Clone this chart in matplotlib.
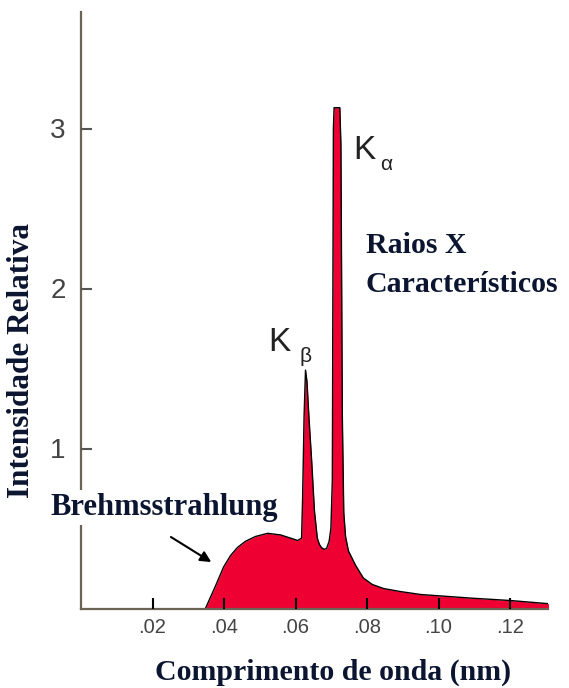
"""Espectro de raios X: Bremsstrahlung + linhas características K-alfa e K-beta"""
import numpy as np
import matplotlib
matplotlib.use('Agg')
import matplotlib.pyplot as plt

# comprimento de onda (nm) e intensidade relativa
wavelength = [0.0348, 0.0362, 0.0376, 0.0399, 0.0418, 0.0437, 0.0460, 0.0488, 0.0522,
              0.0558, 0.0586, 0.0606, 0.0617, 0.0620, 0.0624, 0.0628, 0.0632, 0.0638,
              0.0645, 0.0653, 0.0661, 0.0667, 0.0673, 0.0680, 0.0687, 0.0694, 0.0699,
              0.0703, 0.0706, 0.0708, 0.0724, 0.0727, 0.0731, 0.0735, 0.0740, 0.0748,
              0.0768, 0.0790, 0.0815, 0.0846, 0.0893, 0.0950, 0.0997, 0.1090, 0.1200,
              0.1308]
intensity = [0.00, 0.07, 0.14, 0.26, 0.33, 0.38, 0.42, 0.45, 0.47,
             0.46, 0.44, 0.425, 0.44, 0.70, 1.20, 1.49, 1.42, 1.18,
             0.93, 0.61, 0.44, 0.40, 0.38, 0.37, 0.375, 0.42, 0.50,
             0.80, 3.00, 3.13, 3.13, 2.90, 1.20, 0.60, 0.45, 0.36,
             0.27, 0.19, 0.15, 0.125, 0.106, 0.0875, 0.08, 0.065, 0.05,
             0.03]

x_ticks = [0.02, 0.04, 0.06, 0.08, 0.10, 0.12]
x_tick_labels = ['.02', '.04', '.06', '.08', '.10', '.12']
y_ticks = [1, 2, 3]

W, H = 569, 688
SERIF = ['Liberation Serif', 'DejaVu Serif']
SANS = ['Liberation Sans', 'DejaVu Sans']
TXT = '#0b1530'
SPINE = '#6b6455'
FS = 21.5

fig = plt.figure(figsize=(W / 100, H / 100), dpi=100)
ax = fig.add_axes([81 / W, (H - 608.5) / H, (548 - 81) / W, (608.5 - 12) / H])
ax.set_axisbelow(False)

x = np.array(wavelength)
y = np.array(intensity)
ax.fill_between(x, 0, y, color='#ee0033', linewidth=0, zorder=1.2)
ax.plot(x, y, color='black', linewidth=1.0, zorder=1.3)

ax.set_xlim(0, (548 - 81) / 3575)
ax.set_ylim(0, (608.5 - 12) / 160)

for s in ['top', 'right']:
    ax.spines[s].set_visible(False)
ax.spines['left'].set_color(SPINE)
ax.spines['bottom'].set_color(SPINE)
ax.spines['left'].set_linewidth(1.6)
ax.spines['bottom'].set_linewidth(1.6)
ax.spines['left'].set_zorder(1)

ax.set_xticks(x_ticks)
ax.set_xticklabels(x_tick_labels, fontfamily=SANS, fontsize=14.5, color='#444444')
ax.set_yticks(y_ticks)
ax.set_yticklabels([str(v) for v in y_ticks], fontfamily=SANS, fontsize=20, color='#444444')
ax.tick_params(axis='x', direction='in', length=8, width=1.5, color='black', pad=7)
ax.tick_params(axis='y', direction='in', length=8, width=1.5, color='#555555', pad=11)

# rótulos dos picos
ax.text(0.0762, 2.81, 'K', fontfamily=SANS, fontsize=24, color='#222222')
ax.text(0.0838, 2.74, 'α', fontfamily=SANS, fontsize=15, color='#222222')
ax.text(0.0524, 1.61, 'K', fontfamily=SANS, fontsize=24, color='#222222')
ax.text(0.0612, 1.54, 'β', fontfamily=SANS, fontsize=15, color='#222222')

ax.text(0.0796, 2.22, 'Raios X', fontfamily=SERIF, fontweight='bold',
        fontsize=FS, color=TXT)
ax.text(0.0796, 1.975, 'Característicos', fontfamily=SERIF, fontweight='bold',
        fontsize=FS, color=TXT)

ax.annotate('', xy=(0.0371, 0.281), xytext=(0.0245, 0.456),
            arrowprops=dict(arrowstyle='-|>', color='black', lw=1.5,
                            mutation_scale=16), zorder=4)

fig.text(50 / W, (H - 515) / H, 'Brehmsstrahlung', fontfamily=SERIF,
         fontweight='bold', fontsize=22, color=TXT, va='baseline',
         bbox=dict(facecolor='white', edgecolor='none', pad=2))

fig.text(333 / W, (H - 680) / H, 'Comprimento de onda (nm)', fontfamily=SERIF,
         fontweight='bold', fontsize=FS, color=TXT, ha='center', va='baseline')
fig.text(22 / W, (H - 360) / H, 'Intensidade Relativa', fontfamily=SERIF,
         fontweight='bold', fontsize=22.5, color=TXT, ha='center', va='center',
         rotation=90)

fig.savefig('out.png', dpi=100)
